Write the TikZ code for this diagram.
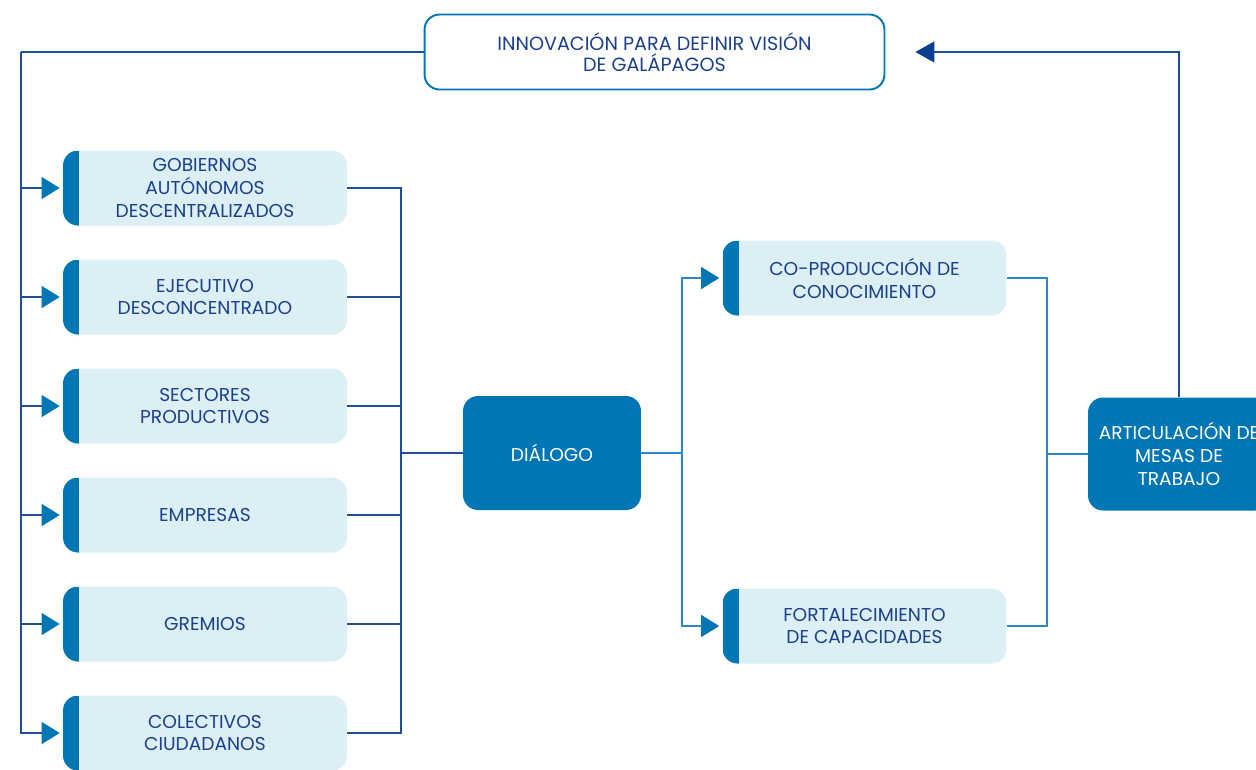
\documentclass[tikz,border=0pt]{standalone}
\usepackage{fontspec}
\setmainfont{Poppins}
\usetikzlibrary{arrows.meta}
\definecolor{navyline}{RGB}{30,78,152}
\definecolor{skyline}{RGB}{38,138,198}
\definecolor{accent}{RGB}{0,119,180}
\definecolor{paleblue}{RGB}{219,239,245}
\definecolor{inktext}{RGB}{28,64,140}
\definecolor{tipnavy}{RGB}{12,62,145}
\tikzset{
  actor/.style={rounded corners=0.3cm, fill=paleblue, text=inktext, align=center,
    minimum width=5.68cm, minimum height=1.5cm, inner sep=0pt,
    font=\fontsize{10.6}{13}\selectfont,
    path picture={\fill[accent, sharp corners] (path picture bounding box.south west)
      rectangle ([xshift=0.32cm]path picture bounding box.north west);}},
  hub/.style={rounded corners=0.3cm, fill=accent, text=white, align=center,
    inner sep=0pt, font=\fontsize{10.6}{13}\selectfont},
  wire/.style={navyline, line width=0.7pt},
  skywire/.style={skyline, line width=0.7pt},
  intip/.style={-{Triangle[length=0.36cm, width=0.44cm, color=accent]}, shorten >=0.06cm}
}
\begin{document}
\begin{tikzpicture}[x=0.02cm, y=-0.02cm]
    \clip (0,0) rectangle (1256,769);
    % top goal
    \node[draw=accent, line width=1.1pt, rounded corners=0.3cm, align=center, text=inktext,
      minimum width=9.2cm, minimum height=1.5cm, font=\fontsize{10.9}{12}\selectfont]
      (vision) at (654.5,52) {INNOVACIÓN PARA DEFINIR VISIÓN\\DE GALÁPAGOS};
    % actors
    \node[actor] (gad) at (205,188) {GOBIERNOS\\AUTÓNOMOS\\DESCENTRALIZADOS};
    \node[actor] (ejec) at (205,297) {EJECUTIVO\\DESCONCENTRADO};
    \node[actor] (sect) at (205,406) {SECTORES\\PRODUCTIVOS};
    \node[actor] (emp) at (205,515) {EMPRESAS};
    \node[actor] (grem) at (205,624) {GREMIOS};
    \node[actor] (colec) at (205,733) {COLECTIVOS\\CIUDADANOS};
    % centre and outcomes
    \node[hub, minimum width=3.56cm, minimum height=2.28cm] (dialogo) at (552,453) {DIÁLOGO};
    \node[actor] (coprod) at (864.5,278) {CO-PRODUCCIÓN DE\\CONOCIMIENTO};
    \node[actor] (fortal) at (864.5,626) {FORTALECIMIENTO\\DE CAPACIDADES};
    \node[hub, minimum width=3.64cm, minimum height=2.26cm] (artic) at (1179,454)
      {ARTICULACIÓN DE\\MESAS DE\\TRABAJO};
    % feedback to the actors
    \coordinate (lft) at (21,52);
    \draw[wire] (vision.west) -- (lft);
    \foreach \b in {gad,ejec,sect,emp,grem,colec}
      \draw[wire, intip] (lft) |- (\b.west);
    % actors into dialogue
    \coordinate (jl) at (401,453);
    \foreach \b in {gad,ejec,sect,emp,grem,colec}
      \draw[wire] (\b.east) -| (jl);
    \draw[wire] (jl) -- (dialogo.west);
    % dialogue to outcomes
    \coordinate (jm) at (682,453);
    \draw[skywire] (dialogo.east) -- (jm);
    \draw[skywire, intip] (jm) |- (coprod.west);
    \draw[skywire, intip] (jm) |- (fortal.west);
    \coordinate (jr) at (1047,454);
    \draw[skywire] (coprod.east) -| (jr);
    \draw[skywire] (fortal.east) -| (jr);
    \draw[skywire] (jr) -- (artic.west);
    % back to the vision
    \draw[wire, -{Triangle[length=0.38cm, width=0.42cm, color=tipnavy]}, shorten >=0.6cm]
      (artic.north) |- (vision.east);
\end{tikzpicture}
\end{document}
